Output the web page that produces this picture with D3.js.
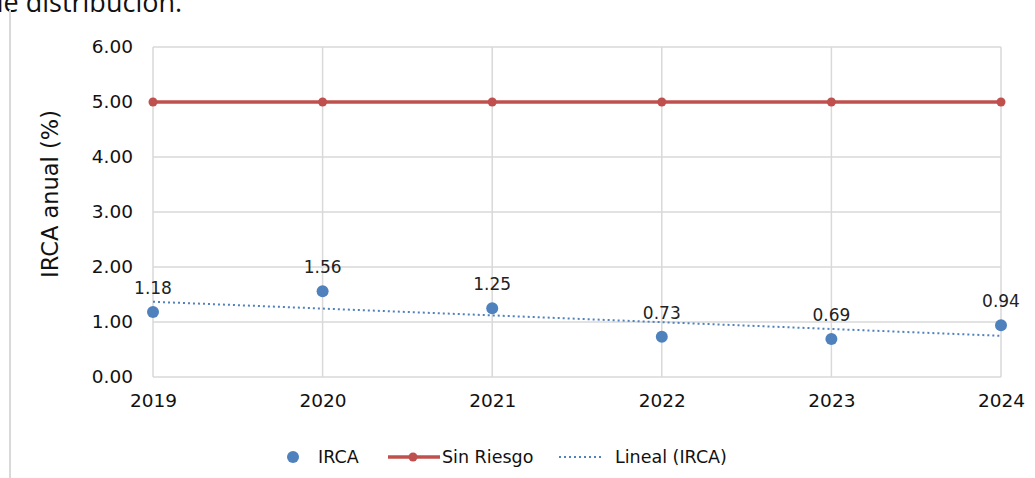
<!DOCTYPE html>
<html lang="es">
<head>
<meta charset="utf-8">
<title>IRCA anual</title>
<script src="https://cdn.jsdelivr.net/npm/d3@7"></script>
<style>
  body { margin: 0; background: #fff; }
  svg { display: block; font-family: "DejaVu Sans", Verdana, sans-serif; }
</style>
</head>
<body>
<script>
// datos del grafico
var years = ["2019", "2020", "2021", "2022", "2023", "2024"];
var irca = [1.18, 1.56, 1.25, 0.73, 0.69, 0.94];
var sinRiesgo = [5, 5, 5, 5, 5, 5];
var yTicks = [0, 1, 2, 3, 4, 5, 6];

var w = 1035, h = 478;
var svg = d3.select("body").append("svg").attr("width", w).attr("height", h);

// texto cortado arriba y linea gris a la izquierda
svg.append("text").attr("x", -13).attr("y", 12)
  .style("font-size", "27px").style("font-family", "Open Sans, sans-serif").attr("fill", "#111")
  .text("de distribución.");
svg.append("line").attr("x1", 10).attr("x2", 10).attr("y1", 10).attr("y2", h)
  .attr("stroke", "#d9d9d9").attr("stroke-width", 2);

var x = d3.scalePoint().domain(years).range([153, 1001]);
var y = d3.scaleLinear().domain([0, 6]).range([377, 47]);

// rejilla
svg.append("g").selectAll("line").data(yTicks).enter().append("line")
  .attr("x1", 153).attr("x2", 1001)
  .attr("y1", function(d) { return y(d); }).attr("y2", function(d) { return y(d); })
  .attr("stroke", "#d9d9d9").attr("stroke-width", 1.5);
svg.append("g").selectAll("line").data(years).enter().append("line")
  .attr("x1", function(d) { return x(d); }).attr("x2", function(d) { return x(d); })
  .attr("y1", y(6)).attr("y2", y(0))
  .attr("stroke", "#d9d9d9").attr("stroke-width", 1.5);

// ejes
var yAxis = svg.append("g").attr("transform", "translate(153,0)")
  .call(d3.axisLeft(y).tickValues(yTicks).tickFormat(d3.format(".2f")).tickSize(0).tickPadding(20));
yAxis.attr("font-family", "DejaVu Sans, Verdana, sans-serif").attr("font-size", 18.5);
yAxis.select(".domain").remove();
yAxis.selectAll("text").attr("fill", "#111");

var xAxis = svg.append("g").attr("transform", "translate(0," + y(0) + ")")
  .call(d3.axisBottom(x).tickSize(0).tickPadding(17));
xAxis.attr("font-family", "DejaVu Sans, Verdana, sans-serif").attr("font-size", 18.5);
xAxis.select(".domain").remove();
xAxis.selectAll("text").attr("fill", "#111");

svg.append("text")
  .attr("transform", "translate(58,194) rotate(-90)")
  .attr("text-anchor", "middle").style("font-size", "22.5px").attr("fill", "#111")
  .text("IRCA anual (%)");

// linea sin riesgo
var line = d3.line().x(function(d, i) { return x(years[i]); }).y(function(d) { return y(d); });
svg.append("path").datum(sinRiesgo).attr("d", line)
  .attr("fill", "none").attr("stroke", "#c0504d").attr("stroke-width", 3.5);
svg.append("g").selectAll("circle").data(sinRiesgo).enter().append("circle")
  .attr("cx", function(d, i) { return x(years[i]); }).attr("cy", function(d) { return y(d); })
  .attr("r", 4.5).attr("fill", "#c0504d");

// tendencia lineal (minimos cuadrados)
var n = irca.length, mx = (n - 1) / 2, my = d3.mean(irca);
var sxy = d3.sum(irca, function(d, i) { return (i - mx) * (d - my); });
var sxx = d3.sum(irca, function(d, i) { return (i - mx) * (i - mx); });
var slope = sxy / sxx, b = my - slope * mx;
var trend = irca.map(function(d, i) { return b + slope * i; });
svg.append("path").datum(trend).attr("d", line)
  .attr("fill", "none").attr("stroke", "#4f81bd").attr("stroke-width", 2)
  .attr("stroke-dasharray", "2,3");

// puntos IRCA
svg.append("g").selectAll("circle").data(irca).enter().append("circle")
  .attr("cx", function(d, i) { return x(years[i]); }).attr("cy", function(d) { return y(d); })
  .attr("r", 6).attr("fill", "#4f81bd");
svg.append("g").selectAll("text").data(irca).enter().append("text")
  .attr("x", function(d, i) { return x(years[i]); }).attr("y", function(d) { return y(d) - 18; })
  .attr("text-anchor", "middle").style("font-size", "17px").attr("fill", "#222")
  .text(function(d) { return d.toFixed(2); });

// leyenda
var ly = 457;
var lg = svg.append("g").style("font-size", "17.5px").attr("fill", "#111");
lg.append("circle").attr("cx", 293).attr("cy", ly).attr("r", 6).attr("fill", "#4f81bd");
lg.append("text").attr("x", 318).attr("y", ly).attr("dy", "0.35em").text("IRCA");
lg.append("line").attr("x1", 388).attr("x2", 440).attr("y1", ly).attr("y2", ly)
  .attr("stroke", "#c0504d").attr("stroke-width", 3.5);
lg.append("circle").attr("cx", 413).attr("cy", ly).attr("r", 4.5).attr("fill", "#c0504d");
lg.append("text").attr("x", 442).attr("y", ly).attr("dy", "0.35em").text("Sin Riesgo");
lg.append("line").attr("x1", 559).attr("x2", 601).attr("y1", ly).attr("y2", ly)
  .attr("stroke", "#4f81bd").attr("stroke-width", 2).attr("stroke-dasharray", "2,3");
lg.append("text").attr("x", 615).attr("y", ly).attr("dy", "0.35em").text("Lineal (IRCA)");
</script>
</body>
</html>
